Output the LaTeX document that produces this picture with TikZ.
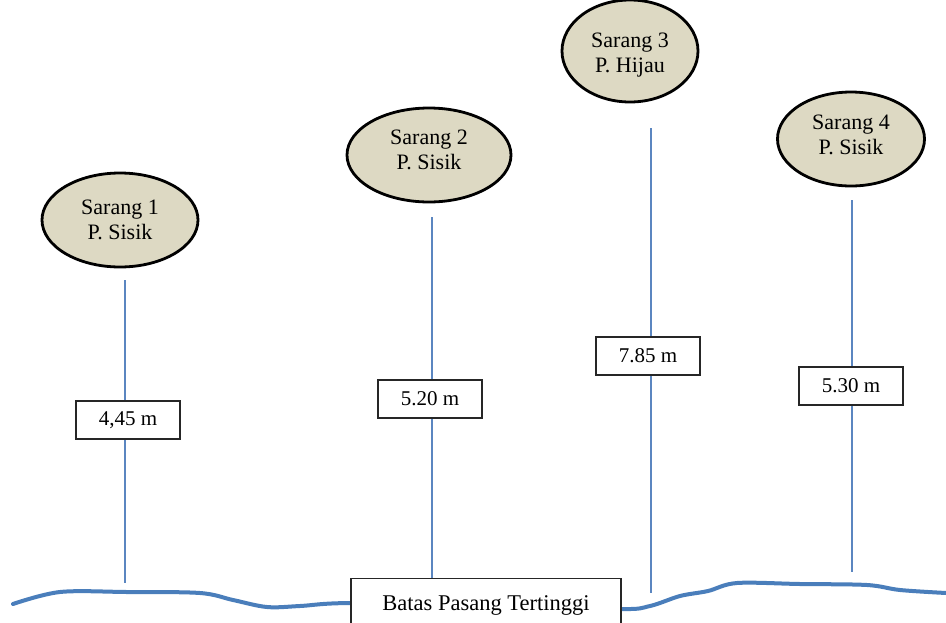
\documentclass[tikz,border=0pt]{standalone}
\usepackage{fontspec}
\setmainfont{Liberation Serif}
\usetikzlibrary{shapes.geometric}
\definecolor{nestfill}{HTML}{DDD9C3}
\definecolor{poleblue}{HTML}{5B86C0}
\definecolor{shoreblue}{HTML}{4A7EBB}
\tikzset{
  nest/.style={ellipse, draw=black, line width=2.8pt, fill=nestfill, inner sep=0pt},
  nesttext/.style={align=center, font=\fontsize{22}{25}\selectfont, inner sep=0pt},
  height/.style={draw=black!85, line width=1.3pt, fill=white,
    minimum width=104pt, minimum height=38pt, inner sep=0pt,
    font=\fontsize{21}{25}\selectfont},
  pole/.style={draw=poleblue, line width=1.2pt},
  shore/.style={draw=shoreblue, line width=4pt, line cap=round}
}
\begin{document}
\begin{tikzpicture}[x=1pt,y=-1pt]
\useasboundingbox (0,0) rectangle (946,622);

% nests
\node[nest, minimum width=156pt, minimum height=94pt,
  label={[nesttext]center:Sarang 1\\P. Sisik}] (n1) at (120,220) {};
\node[nest, minimum width=164pt, minimum height=94pt,
  label={[nesttext, yshift=5pt]center:Sarang 2\\P. Sisik}] (n2) at (429,155) {};
\node[nest, minimum width=136pt, minimum height=102pt,
  label={[nesttext, yshift=-4pt]center:Sarang 3\\P. Hijau}] (n3) at (630,51) {};
\node[nest, minimum width=147pt, minimum height=94pt,
  label={[nesttext, yshift=4pt]center:Sarang 4\\P. Sisik}] (n4) at (851,139) {};

% pole ends
\coordinate (t1) at (125,280); \coordinate (g1) at (125,583);
\coordinate (t2) at (432,217);
\coordinate (t3) at (651,128); \coordinate (g3) at (651,593);
\coordinate (t4) at (852,200); \coordinate (g4) at (852,572);

% shoreline
\draw[shore] plot[smooth, tension=0.55] coordinates {
  (13,604) (60,592) (127,592) (200,593) (233,600) (267,607) (300,606) (350,603)
  (500,604) (620,609) (650,606) (680,596) (708,591) (737,583) (800,584)
  (867,585) (900,590) (946,593)};

% high-tide limit label
\node[draw=black!85, line width=1.3pt, fill=white, minimum width=270pt,
  inner sep=0pt, anchor=north, text height=32pt, text depth=20pt,
  font=\fontsize{22.5}{25}\selectfont] (batas) at (486,578) {Batas Pasang Tertinggi};

% poles
\draw[pole] (t1) -- (g1);
\draw[pole] (t2) -- (batas.north -| t2);
\draw[pole] (t3) -- (g3);
\draw[pole] (t4) -- (g4);

% heights
\node[height] (h1) at (128,420) {4,45 m};
\node[height] (h2) at (430,399) {5.20 m};
\node[height] (h3) at (648,356) {7.85 m};
\node[height] (h4) at (851,386) {5.30 m};
\end{tikzpicture}
\end{document}
